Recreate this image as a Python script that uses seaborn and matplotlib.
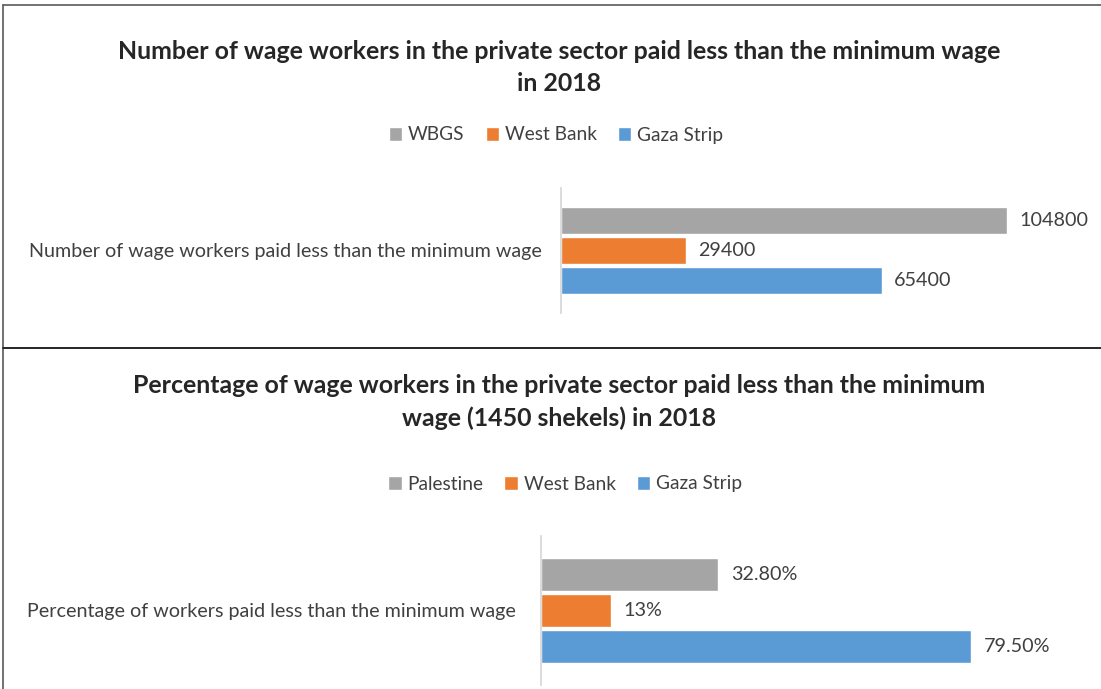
import matplotlib

matplotlib.use("Agg")
import matplotlib.pyplot as plt
import pandas as pd
import seaborn as sns
from matplotlib.lines import Line2D

W, H = 1101, 689

# top panel: counts (bar for Gaza drawn at WBGS - WB, label as printed in the source)
TOP_TITLE = "Number of wage workers in the private sector paid less than the minimum wage\nin 2018"
TOP_CATEGORY = "Number of wage workers paid less than the minimum wage"
TOP_REGIONS = ["WBGS", "West Bank", "Gaza Strip"]
TOP_VALUES = [104800, 29400, 75400]
TOP_LABELS = ["104800", "29400", "65400"]

# bottom panel: percentages
BOTTOM_TITLE = "Percentage of wage workers in the private sector paid less than the minimum\nwage (1450 shekels) in 2018"
BOTTOM_CATEGORY = "Percentage of workers paid less than the minimum wage"
BOTTOM_REGIONS = ["Palestine", "West Bank", "Gaza Strip"]
BOTTOM_VALUES = [32.8, 13.0, 79.5]
BOTTOM_LABELS = ["32.80%", "13%", "79.50%"]

COLORS = ["#A5A5A5", "#ED7D31", "#5B9BD5"]
TEXT = "#404040"


def px_box(x0, y0, x1, y1):
    return [x0 / W, 1 - y1 / H, (x1 - x0) / W, (y1 - y0) / H]


def draw_panel(fig, box, category, regions, values, labels, xmax, title, title_y,
               legend_xy, tick_pad):
    df = pd.DataFrame({"category": category, "region": regions, "value": values})
    ax = fig.add_axes(px_box(*box))
    sns.barplot(data=df, y="category", x="value", hue="region", hue_order=regions,
                palette=COLORS, orient="h", width=0.72, gap=0.08, saturation=1,
                ax=ax)
    ax.set_xlim(0, xmax)
    ax.set_ylim(0.5, -0.5)
    ax.set_xlabel("")
    ax.set_ylabel("")
    ax.set_xticks([])
    for side in ["top", "right", "bottom"]:
        ax.spines[side].set_visible(False)
    ax.spines["left"].set_color("#D9D9D9")
    ax.spines["left"].set_linewidth(1.3)
    ax.tick_params(axis="y", length=0, pad=tick_pad, labelsize=14.2, labelcolor=TEXT)
    ax.set_facecolor("none")

    for container, text in zip(ax.containers, labels):
        ax.bar_label(container, labels=[text], padding=9, fontsize=14.2, color=TEXT)

    handles, names = ax.get_legend_handles_labels()
    ax.legend(handles, names, ncol=3, loc="center",
              bbox_to_anchor=(legend_xy[0] / W, 1 - legend_xy[1] / H),
              bbox_transform=fig.transFigure, frameon=False, fontsize=13.8,
              handlelength=0.7, handleheight=0.7, handletextpad=0.3,
              columnspacing=1.1, labelcolor=TEXT)

    fig.text(559 / W, 1 - title_y / H, title, ha="center", va="center",
             fontsize=17.9, fontweight="bold", color="#262626", linespacing=1.45)
    return ax


sns.set_theme(style="white")
plt.rcParams["font.family"] = ["Lato", "DejaVu Sans"]

fig = plt.figure(figsize=(W / 100, H / 100), dpi=100)
fig.patch.set_facecolor("white")

draw_panel(fig, (561, 188, 1081, 313), TOP_CATEGORY, TOP_REGIONS, TOP_VALUES,
           TOP_LABELS, 122200, TOP_TITLE, 67.5, (556, 135), 14)
draw_panel(fig, (541, 536, 1081, 685), BOTTOM_CATEGORY, BOTTOM_REGIONS,
           BOTTOM_VALUES, BOTTOM_LABELS, 99.8, BOTTOM_TITLE, 402, (565, 484), 18)

# panel borders
border = dict(transform=fig.transFigure, color="#595959", linewidth=1.2)
fig.add_artist(Line2D([3 / W, 1], [1 - 5 / H, 1 - 5 / H], **border))
fig.add_artist(Line2D([3 / W, 3 / W], [1 - 5 / H, 0], **border))
fig.add_artist(Line2D([3 / W, 1], [1 - 347.5 / H, 1 - 347.5 / H],
                      transform=fig.transFigure, color="#262626", linewidth=1.4))

fig.savefig("out.png", dpi=100)
